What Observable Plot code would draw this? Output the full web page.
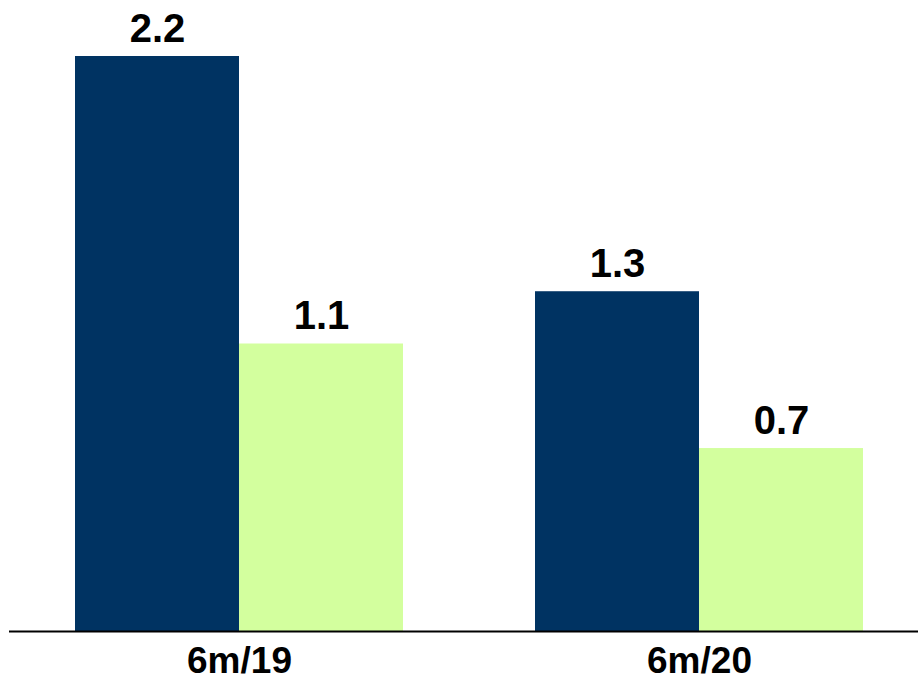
<!DOCTYPE html>
<html>
<head>
<meta charset="utf-8">
<script src="https://cdn.jsdelivr.net/npm/d3@7"></script>
<script src="https://cdn.jsdelivr.net/npm/@observablehq/plot@0.6"></script>
<style>
  html, body { margin: 0; padding: 0; background: #ffffff; }
  #chart svg { display: block; }
</style>
</head>
<body>
<div id="chart"></div>
<script>
// Periods on the category axis
const periods = ["6m/19", "6m/20"];
// Values of the two series, one entry per period
const firstSeries = [2.2, 1.3];
const secondSeries = [1.1, 0.7];

const firstColor = "#003362";
const secondColor = "#d3ff9e";

const firstRows = periods.map((p, i) => ({period: p, value: firstSeries[i]}));
const secondRows = periods.map((p, i) => ({period: p, value: secondSeries[i]}));

// Each period band holds two adjacent bars: half of the band per series
const halfBand = 164;
const labelStyle = {fontSize: 40, fontWeight: "bold", lineAnchor: "bottom", dy: -15, fill: "#000"};

const chart = Plot.plot({
  width: 918,
  height: 680,
  marginLeft: 9,
  marginRight: 0,
  marginTop: 56,
  marginBottom: 49,
  style: {fontFamily: "'Liberation Sans', Arial, sans-serif", color: "#000", background: "#fff"},
  x: {domain: periods, range: [9, 929], paddingInner: 132 / 460, paddingOuter: 66 / 460, label: null},
  y: {domain: [0, 2.2], axis: null},
  marks: [
    Plot.barY(firstRows, {x: "period", y: "value", fill: firstColor, insetRight: halfBand}),
    Plot.barY(secondRows, {x: "period", y: "value", fill: secondColor, insetLeft: halfBand}),
    Plot.text(firstRows, {x: "period", y: "value", text: d => d.value.toFixed(1), dx: -halfBand / 2, ...labelStyle}),
    Plot.text(secondRows, {x: "period", y: "value", text: d => d.value.toFixed(1), dx: halfBand / 2, ...labelStyle}),
    Plot.ruleY([0], {stroke: "#000", strokeWidth: 2}),
    Plot.axisX({tickSize: 0, tickPadding: 15, fontSize: 37, fontWeight: "bold", label: null})
  ]
});

document.getElementById("chart").appendChild(chart);
</script>
</body>
</html>
